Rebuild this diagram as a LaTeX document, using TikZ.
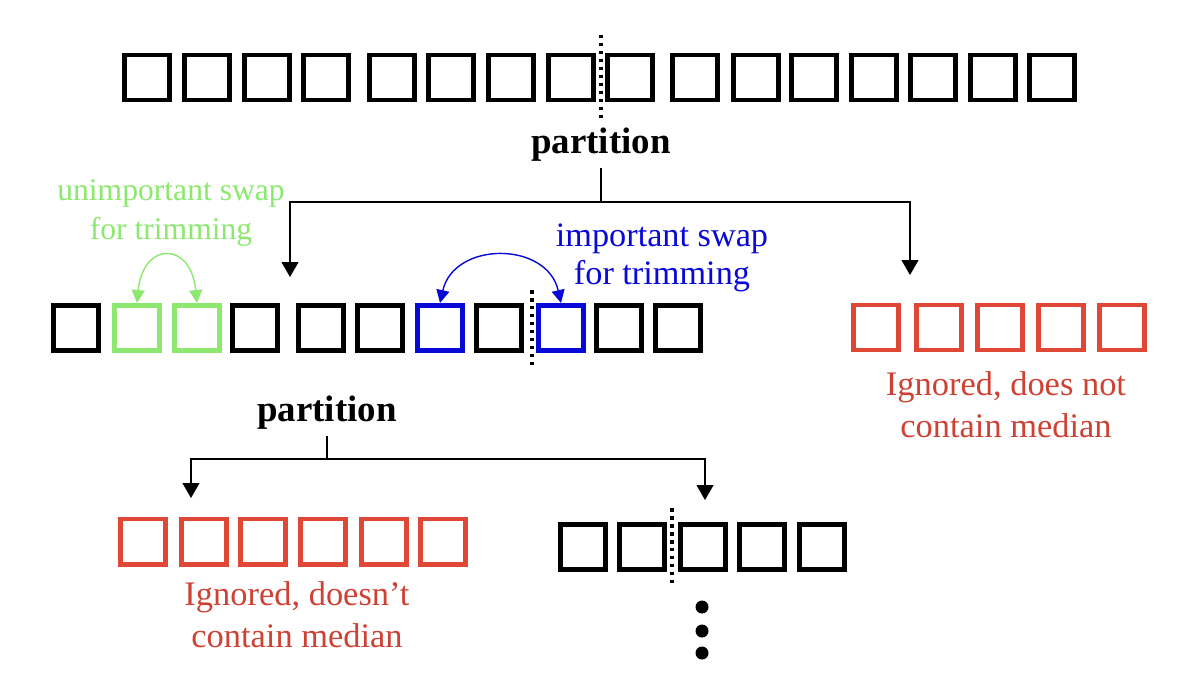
\documentclass[tikz,border=0pt]{standalone}
\usepackage{fontspec}
\setmainfont{Liberation Serif}
\usetikzlibrary{arrows.meta}

\definecolor{swapgreen}{RGB}{140,232,110}
\definecolor{swapblue}{RGB}{8,8,215}
\definecolor{dropred}{RGB}{222,72,52}
\definecolor{droptext}{RGB}{205,66,52}

\begin{document}
\begin{tikzpicture}[x=0.02cm, y=-0.02cm,
    cell/.style={draw, line width=0.095cm, minimum size=0.905cm, inner sep=0pt},
    split/.style={line width=0.07cm, dash pattern=on 0.07cm off 0.09cm},
    part/.style={font=\fontsize{21}{25}\selectfont\bfseries},
    tree/.style={line width=0.6pt, -{Triangle[length=0.3cm, width=0.34cm]}},
    swap/.style={line width=0.8pt, {Triangle[length=0.26cm, width=0.26cm]}-{Triangle[length=0.26cm, width=0.26cm]}}]

    \useasboundingbox (0,0) rectangle (1196,686);

    % Top row, 16 cells
    \foreach \x [count=\i] in {122,182,242,301,367,426,486,546,605,670,731,789,849,908,968,1027} {
        \node[cell] (t\i) at (\x+25, 77.5) {};
    }
    \draw[split] (601,35) -- (601,118);

    % First partition
    \node[part] (p1) at (601,145) {partition};
    \coordinate (j1) at (601,202);
    \coordinate (a1) at (290,277);
    \coordinate (a2) at (910,275);
    \draw[line width=0.6pt] (p1) -- (j1);
    \draw[tree] (j1) -| (a1);
    \draw[tree] (j1) -| (a2);

    % Middle row with the swaps
    \foreach \x/\c [count=\i] in {51/black, 112/swapgreen, 172/swapgreen, 230/black, 296/black, 355/black,
                                  415/swapblue, 474/black, 536/swapblue, 594/black, 653/black} {
        \node[cell, draw=\c] (m\i) at (\x+25, 328) {};
    }
    \draw[split] (532,290) -- (532,367);

    \node[align=center, text=swapgreen, font=\fontsize{18}{22.5}\selectfont] (g) at (171,213) {unimportant swap\\for trimming};
    \draw[swap, swapgreen] (m2.north) .. controls +(6,-62) and +(-6,-62) .. (m3.north);

    \node[align=center, text=swapblue, font=\fontsize{19.5}{21.5}\selectfont] (b) at (662,258) {important swap\\for trimming};
    \draw[swap, swapblue] (m7.north) .. controls +(14,-62) and +(-14,-62) .. (m9.north);

    % Right part, ignored
    \foreach \x [count=\i] in {851,914,975,1036,1097} {
        \node[cell, draw=dropred] (r\i) at (\x+25, 327.5) {};
    }
    \node[align=center, text=droptext, font=\fontsize{19.6}{24}\selectfont] (rt) at (1006,405) {Ignored, does not\\contain median};

    % Second partition
    \node[part] (p2) at (327,413) {partition};
    \coordinate (j2) at (327,459);
    \coordinate (a3) at (191,498);
    \coordinate (a4) at (705,500);
    \draw[line width=0.6pt] (p2) -- (j2);
    \draw[tree] (j2) -| (a3);
    \draw[tree] (j2) -| (a4);

    % Bottom left, ignored
    \foreach \x [count=\i] in {118,179,238,298,359,418} {
        \node[cell, draw=dropred] (l\i) at (\x+25, 541.5) {};
    }
    \node[align=center, text=droptext, font=\fontsize{19.6}{24}\selectfont] (lt) at (297,615) {Ignored, doesn't\\contain median};

    % Bottom right, kept
    \foreach \x [count=\i] in {558,617,678,737,797} {
        \node[cell] (k\i) at (\x+25, 547) {};
    }
    \draw[split] (672,508) -- (672,585);
    \foreach \y in {607,631,653} {
        \fill (702,\y) circle (0.13cm);
    }

\end{tikzpicture}
\end{document}
